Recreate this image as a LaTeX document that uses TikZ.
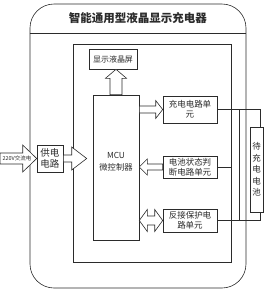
\documentclass[tikz,border=0pt]{standalone}
\usepackage{fontspec}
\usepackage{tikz}
\usetikzlibrary{calc}
\newfontfamily\cjk{Noto Sans CJK SC}
\definecolor{wireink}{HTML}{2B2B2B}
\newcommand{\blockarrow}[5]{%
  \coordinate (hb) at ($(#2)!#5!(#1)$);%
  \draw[hollow] ($(#1)!#3!90:(#2)$) -- ($(hb)!#3!90:(#2)$) -- ($(hb)!#4!90:(#2)$) -- (#2)
    -- ($(hb)!#4!-90:(#2)$) -- ($(hb)!#3!-90:(#2)$) -- ($(#1)!#3!-90:(#2)$) -- cycle;%
}
\newcommand{\dblarrow}[5]{%
  \coordinate (ha) at ($(#1)!#5!(#2)$);%
  \coordinate (hb) at ($(#2)!#5!(#1)$);%
  \draw[hollow] (#1) -- ($(ha)!#4!90:(#2)$) -- ($(ha)!#3!90:(#2)$) -- ($(hb)!#3!-90:(#1)$)
    -- ($(hb)!#4!-90:(#1)$) -- (#2) -- ($(hb)!#4!90:(#1)$) -- ($(hb)!#3!90:(#1)$)
    -- ($(ha)!#3!-90:(#2)$) -- ($(ha)!#4!-90:(#2)$) -- cycle;%
}

\begin{document}
\begin{tikzpicture}[x=1pt, y=-1pt, line width=0.6pt, color=wireink,
  box/.style={draw, inner sep=0pt, align=center, font=\cjk\fontsize{8.5}{10}\selectfont},
  hollow/.style={draw, fill=white, line join=miter}]
  \useasboundingbox (0,0) rectangle (270,290);

  \node[draw, rounded corners=24pt, minimum width=216pt, minimum height=284pt] (shell) at (138,146) {};
  \draw (shell.west |- 0,33) -- (shell.east |- 0,33);
  \node[font=\cjk\bfseries\fontsize{11.5}{12}\selectfont] (title) at (138,18) {智能通用型液晶显示充电器};
  \node[draw, minimum width=158pt, minimum height=218pt] (board) at (152,153) {};

  \node[box, minimum width=48pt, minimum height=20pt, font=\cjk\fontsize{8}{10}\selectfont] (disp) at (113,59) {显示液晶屏};
  \node[box, minimum width=46pt, minimum height=145pt] (mcu) at (116,167.5) {};
  \node[align=center, font=\cjk\fontsize{8.3}{12}\selectfont] (mcutext) at ($(mcu.center)+(0,-6)$) {MCU\\微控制器};
  \node[box, minimum width=26pt, minimum height=27pt, font=\cjk\fontsize{9.5}{11.5}\selectfont] (pwr) at (50,158.5) {供电\\电路};
  \node[box, minimum width=54pt, minimum height=27pt] (chg) at (190,109.5) {充电电路单\\元};
  \node[box, minimum width=54pt, minimum height=22pt] (bst) at (190,167) {电池状态判\\断电路单元};
  \node[box, minimum width=54pt, minimum height=23pt] (rev) at (190,220.5) {反接保护电\\路单元};
  \node[box, minimum width=13pt, minimum height=85pt, font=\cjk\fontsize{8.5}{11.5}\selectfont] (bat) at (256.5,169.5) {待\\充\\电\\电\\池};

  \draw (chg.east) -| ([xshift=3.5pt]bat.north);
  \draw (rev.east) -| ([xshift=3.5pt]bat.south);
  \coordinate (tap) at (239,0);
  \draw (chg.east -| tap) -- (rev.east -| tap);
  \draw (bst.east) -- (bst.east -| board.east);

  \coordinate (acin) at (0,158.5);
  \coordinate (mcuin) at ($(mcu.west |- pwr.east)+(-6,0)$);
  \coordinate (dispin) at (disp.south -| mcu.north);
  \coordinate (chgin) at (mcu.east |- chg.west);
  \coordinate (bstin) at (mcu.east |- bst.west);
  \coordinate (revin) at (mcu.east |- rev.west);
  \blockarrow{acin}{pwr.west}{5.5pt}{13.5pt}{14pt}
  \blockarrow{pwr.east}{mcuin}{3.5pt}{11.5pt}{15pt}
  \blockarrow{mcu.north}{dispin}{6pt}{10.5pt}{9pt}
  \blockarrow{chgin}{chg.west}{3.5pt}{9pt}{7pt}
  \blockarrow{bst.west}{bstin}{3pt}{8pt}{8pt}
  \dblarrow{revin}{rev.west}{4.5pt}{11pt}{8pt}
  \node[font=\cjk\fontsize{5.5}{6}\selectfont] (acv) at (17,158.5) {220V交流电};
\end{tikzpicture}
\end{document}
